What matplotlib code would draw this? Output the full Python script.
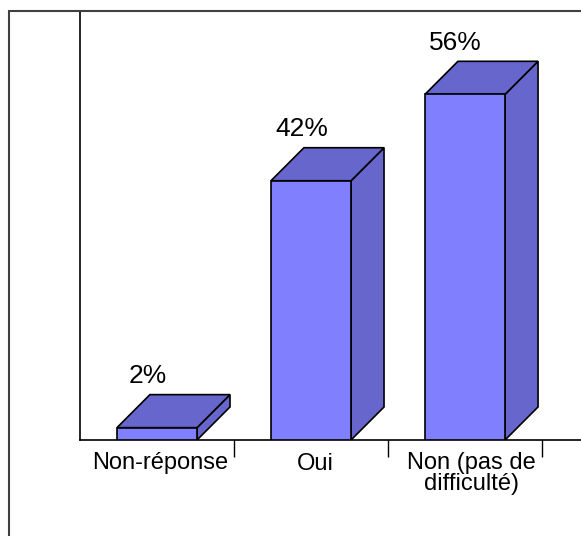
import numpy as np
import matplotlib.pyplot as plt
from matplotlib.patches import Polygon, Rectangle

plt.rcParams['font.family'] = ['Liberation Sans', 'DejaVu Sans']

categories = ['Non-réponse', 'Oui', 'Non (pas de\ndifficulté)']
values = [2, 42, 56]
labels = ['2%', '42%', '56%']

front_col = '#8080ff'
shade_col = '#6666cc'
half_w = 0.26      # half width of the front face, in category units
depth_x = 0.214    # 3d depth offset, x (category units)
depth_y = 5.35     # 3d depth offset, y (percent units)

fig = plt.figure(figsize=(5.81, 5.36), dpi=100)
ax = fig.add_axes([80 / 581, 96 / 536, 501 / 581, 429 / 536])

for i, v in enumerate(values):
    x0, x1 = i - half_w, i + half_w
    # right side
    ax.add_patch(Polygon([(x1, 0), (x1 + depth_x, depth_y), (x1 + depth_x, v + depth_y), (x1, v)],
                         closed=True, facecolor=shade_col, edgecolor='black', lw=1.2, zorder=2))
    # top
    ax.add_patch(Polygon([(x0, v), (x0 + depth_x, v + depth_y), (x1 + depth_x, v + depth_y), (x1, v)],
                         closed=True, facecolor=shade_col, edgecolor='black', lw=1.2, zorder=2))
    # front
    ax.add_patch(Rectangle((x0, 0), 2 * half_w, v, facecolor=front_col,
                           edgecolor='black', lw=1.2, zorder=3))
    ax.text(i - 0.06, v + depth_y + 1.1, labels[i], ha='center', va='bottom', fontsize=19)

ax.set_xlim(-0.5, 2.753)
ax.set_ylim(0, 69.5)

ax.set_xticks([0.5, 1.5, 2.5])
ax.set_xticklabels([])
ax.tick_params(axis='x', which='major', length=12, width=1, direction='out', color='black')
ax.set_xticks([0.02, 1.03, 2.04], minor=True)
ax.set_xticklabels(categories, minor=True, fontsize=17, linespacing=0.9)
ax.tick_params(axis='x', which='minor', length=0, pad=9)
ax.set_yticks([])

for s in ['top', 'right']:
    ax.spines[s].set_visible(False)
ax.spines['left'].set_linewidth(1.2)
ax.spines['bottom'].set_linewidth(1.2)

# outer frame around the chart
fig.patches.append(Rectangle((9 / 581, -0.1), 1.2, (536 - 11) / 536 + 0.1,
                             transform=fig.transFigure, fill=False,
                             edgecolor='#404040', lw=1.5))

fig.savefig('out.png', dpi=100)
